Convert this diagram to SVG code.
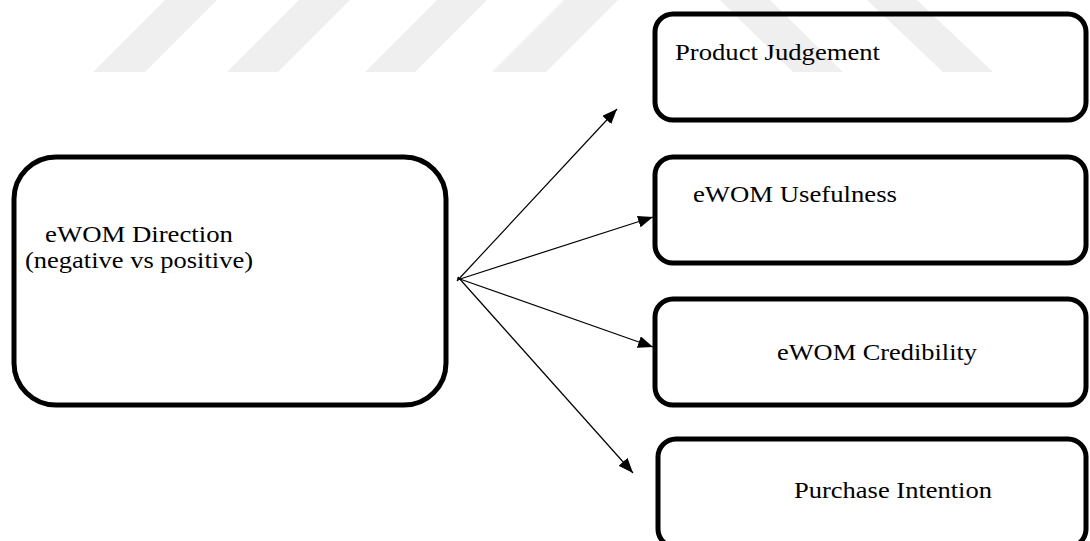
<svg xmlns="http://www.w3.org/2000/svg" width="1090" height="541" viewBox="0 0 1090 541">
  <style>
    .box { fill: none; stroke: #000; stroke-width: 5; }
    .lbl { font-family: "Liberation Serif", "Times New Roman", serif; fill: #000; }
    .edge { stroke: #000; stroke-width: 1.2; fill: none; marker-end: url(#head); }
    .band { fill: #efefef; }
  </style>
  <defs>
    <marker id="head" markerUnits="userSpaceOnUse" markerWidth="16" markerHeight="12" refX="15" refY="6" orient="auto">
      <path d="M0,0 L15,6 L0,12 Z" fill="#000"/>
    </marker>
  </defs>

  <rect width="1090" height="541" fill="#fff"/>

  <!-- faint diagonal bands along the top -->
  <g id="bands">
    <polygon class="band" points="93,72 145,72 217,0 165,0"/>
    <polygon class="band" points="227,72 278,72 350,0 299,0"/>
    <polygon class="band" points="365,72 415,72 487,0 437,0"/>
    <polygon class="band" points="492,72 546,72 618,0 564,0"/>
    <polygon class="band" points="720,0 770,0 843,72 793,72"/>
    <polygon class="band" points="867,0 917,0 993,72 943,72"/>
  </g>

  <g id="direction">
    <rect class="box" x="14" y="157" width="432" height="248" rx="42" ry="42"/>
    <text class="lbl" x="45" y="242" font-size="23" textLength="188" lengthAdjust="spacingAndGlyphs">eWOM Direction</text>
    <text class="lbl" x="25" y="268" font-size="23" textLength="228" lengthAdjust="spacingAndGlyphs">(negative vs positive)</text>
  </g>

  <g id="judgement">
    <rect class="box" x="655" y="14" width="431" height="106" rx="18" ry="18"/>
    <text class="lbl" x="675" y="60" font-size="24" textLength="205" lengthAdjust="spacingAndGlyphs">Product Judgement</text>
  </g>

  <g id="usefulness">
    <rect class="box" x="655" y="157" width="431" height="106" rx="18" ry="18"/>
    <text class="lbl" x="693" y="202" font-size="24" textLength="204" lengthAdjust="spacingAndGlyphs">eWOM Usefulness</text>
  </g>

  <g id="credibility">
    <rect class="box" x="655" y="299" width="431" height="106" rx="18" ry="18"/>
    <text class="lbl" x="777" y="360" font-size="24" textLength="200" lengthAdjust="spacingAndGlyphs">eWOM Credibility</text>
  </g>

  <g id="intention">
    <rect class="box" x="658" y="439" width="428" height="108" rx="18" ry="18"/>
    <text class="lbl" x="794" y="498" font-size="24" textLength="198" lengthAdjust="spacingAndGlyphs">Purchase Intention</text>
  </g>

  <g id="connectors">
    <line class="edge" x1="457" y1="281" x2="617" y2="109"/>
    <line class="edge" x1="457" y1="280" x2="653" y2="217"/>
    <line class="edge" x1="457" y1="278" x2="653" y2="347"/>
    <line class="edge" x1="458" y1="277" x2="633" y2="473"/>
  </g>
</svg>
